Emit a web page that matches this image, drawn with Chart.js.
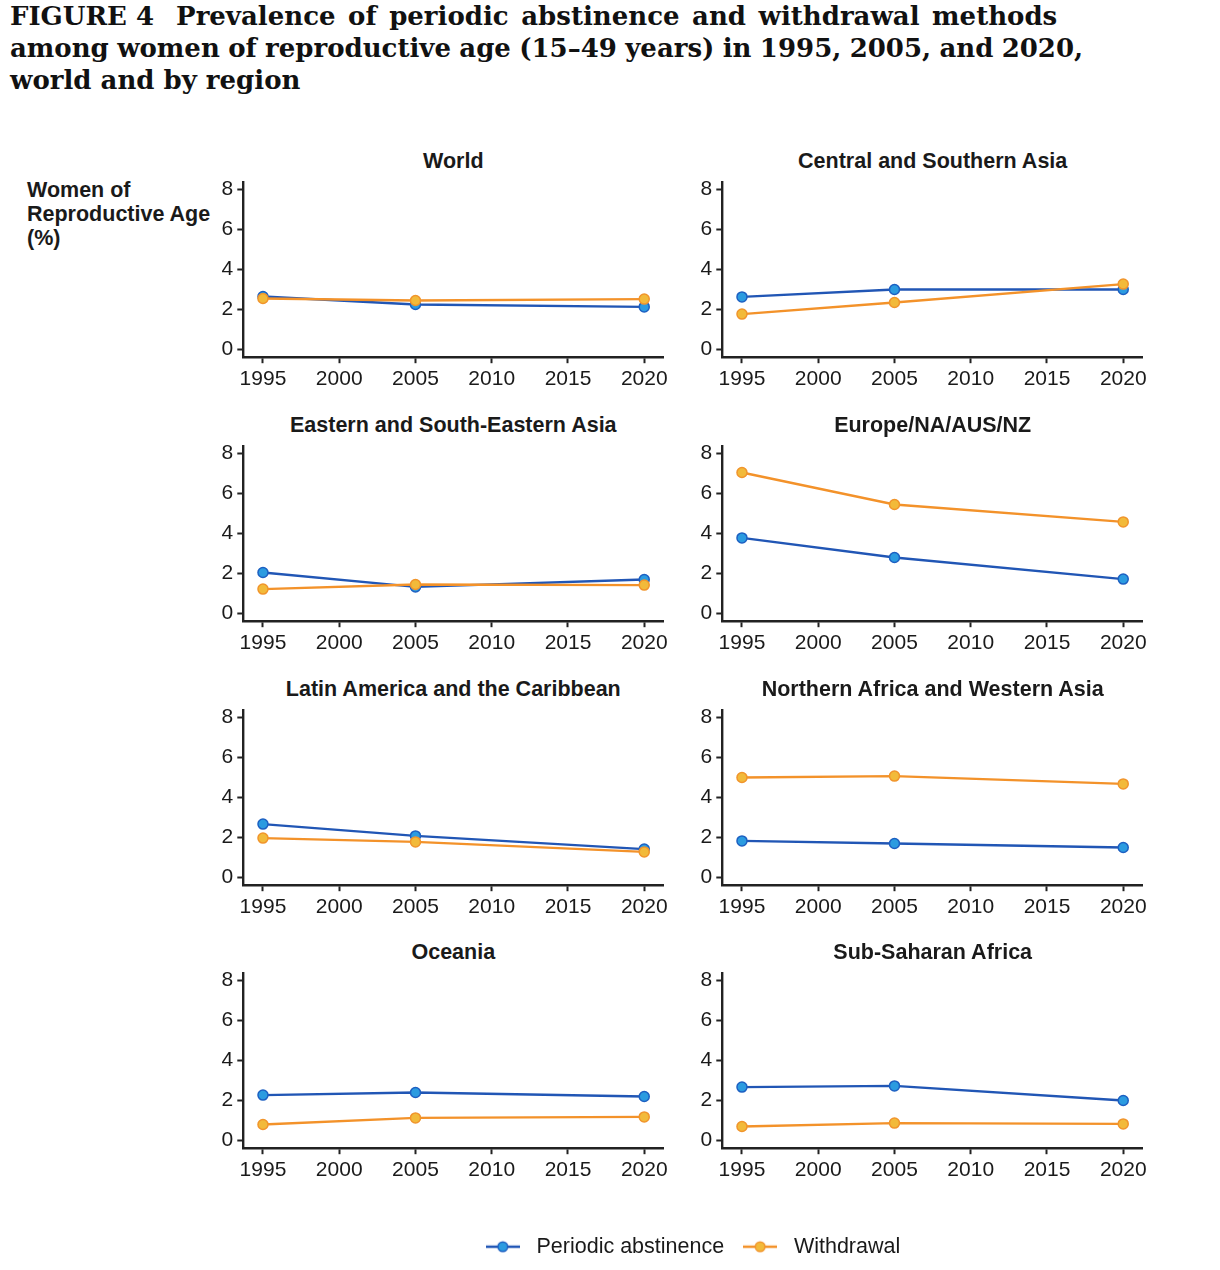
<!DOCTYPE html>
<html><head><meta charset="utf-8">
<script src="https://cdn.jsdelivr.net/npm/chart.js@4/dist/chart.umd.min.js"></script>
<style>
html,body{margin:0;padding:0;background:#fff;}
body{width:1220px;height:1270px;position:relative;overflow:hidden;}
#title{position:absolute;left:10px;top:0px;font-family:"DejaVu Serif",serif;font-weight:bold;font-size:26px;line-height:32px;color:#111;white-space:nowrap;}
#title .l1{word-spacing:3.5px;}
#title .l2{word-spacing:-0.7px;}
#title .fig{margin-right:22px;word-spacing:0;}
.ptitle{position:absolute;width:480px;text-align:center;font-family:"Liberation Sans",Arial,sans-serif;font-weight:bold;font-size:21.5px;line-height:26px;color:#1a1a1a;white-space:nowrap;}
#ylab{position:absolute;left:27px;top:178px;font-family:"Liberation Sans",Arial,sans-serif;font-weight:bold;font-size:21.5px;line-height:24px;color:#1a1a1a;}
.pc{position:absolute;}
</style>
</head><body>
<div id="title"><span class="l1"><span class="fig">FIGURE 4</span>Prevalence of periodic abstinence and withdrawal methods</span><br><span class="l2">among women of reproductive age (15–49 years) in 1995, 2005, and 2020,</span><br>world and by region</div>
<div id="ylab">Women of<br>Reproductive Age<br>(%)</div>
<script>
// ---- data ----
const years = [1995, 2005, 2020];
const xTicks = [1995, 2000, 2005, 2010, 2015, 2020];
const yTicks = [0, 2, 4, 6, 8];
const seriesNames = ["Periodic abstinence", "Withdrawal"];
const regions = ["World", "Central and Southern Asia", "Eastern and South-Eastern Asia", "Europe/NA/AUS/NZ",
                 "Latin America and the Caribbean", "Northern Africa and Western Asia", "Oceania", "Sub-Saharan Africa"];

const worldPeriodic = [2.65, 2.25, 2.13];
const worldWithdrawal = [2.55, 2.45, 2.52];
const centralSouthAsiaPeriodic = [2.63, 3.0, 3.0];
const centralSouthAsiaWithdrawal = [1.77, 2.35, 3.27];
const eastSEAsiaPeriodic = [2.05, 1.33, 1.7];
const eastSEAsiaWithdrawal = [1.22, 1.45, 1.42];
const europePeriodic = [3.78, 2.8, 1.72];
const europeWithdrawal = [7.05, 5.45, 4.58];
const latinAmericaPeriodic = [2.67, 2.08, 1.42];
const latinAmericaWithdrawal = [1.97, 1.78, 1.28];
const nAfricaWAsiaPeriodic = [1.83, 1.7, 1.5];
const nAfricaWAsiaWithdrawal = [5.0, 5.07, 4.68];
const oceaniaPeriodic = [2.27, 2.4, 2.2];
const oceaniaWithdrawal = [0.8, 1.13, 1.18];
const subSaharanPeriodic = [2.67, 2.73, 2.0];
const subSaharanWithdrawal = [0.7, 0.87, 0.83];

const periodicByRegion = [worldPeriodic, centralSouthAsiaPeriodic, eastSEAsiaPeriodic, europePeriodic,
                          latinAmericaPeriodic, nAfricaWAsiaPeriodic, oceaniaPeriodic, subSaharanPeriodic];
const withdrawalByRegion = [worldWithdrawal, centralSouthAsiaWithdrawal, eastSEAsiaWithdrawal, europeWithdrawal,
                            latinAmericaWithdrawal, nAfricaWAsiaWithdrawal, oceaniaWithdrawal, subSaharanWithdrawal];

// ---- styles ----
const blueLine = "#2156b5", blueFill = "#2b9be0", blueBorder = "#1d60c2";
const orangeLine = "#f3922a", orangeFill = "#f2ba3a", orangeBorder = "#f1952c";
const axisColor = "#222";
const textColor = "#1a1a1a";
const sans = '"Liberation Sans", Arial, sans-serif';

const colLeft = [200, 679.4];
const rowTop0 = 150, rowStep = 263.8;
const canvasW = 480, canvasH = 250;
const padTop = 31.8, areaH = 175.4, yAxisW = 43.3, padRight = 16.7;

Chart.defaults.animation = false;

regions.forEach((name, i) => {
  const col = i % 2, row = Math.floor(i / 2);
  const left = colLeft[col], top = rowTop0 + row * rowStep;

  const t = document.createElement('div');
  t.className = 'ptitle';
  t.textContent = name;
  const cx = left + yAxisW + (canvasW - yAxisW - padRight) / 2;
  t.style.left = (cx - 240) + 'px';
  t.style.top = (top - 2) + 'px';
  document.body.appendChild(t);

  const wrap = document.createElement('div');
  wrap.className = 'pc';
  wrap.style.left = left + 'px';
  wrap.style.top = top + 'px';
  wrap.style.width = canvasW + 'px';
  wrap.style.height = canvasH + 'px';
  const cv = document.createElement('canvas');
  wrap.appendChild(cv);
  document.body.appendChild(wrap);

  const mk = arr => years.map((y, k) => ({x: y, y: arr[k]}));
  new Chart(cv, {
    type: 'line',
    data: {
      datasets: [
        {label: seriesNames[0], data: mk(periodicByRegion[i]), borderColor: blueLine, borderWidth: 2.3,
         pointBackgroundColor: blueFill, pointBorderColor: blueBorder, pointBorderWidth: 1.5, pointRadius: 5,
         tension: 0, order: 1},
        {label: seriesNames[1], data: mk(withdrawalByRegion[i]), borderColor: orangeLine, borderWidth: 2.3,
         pointBackgroundColor: orangeFill, pointBorderColor: orangeBorder, pointBorderWidth: 1.5, pointRadius: 5,
         tension: 0, order: 0}
      ]
    },
    options: {
      responsive: true, maintainAspectRatio: false,
      layout: {padding: {top: padTop, right: padRight, left: 0, bottom: 0}, autoPadding: false},
      plugins: {legend: {display: false}, tooltip: {enabled: false}},
      scales: {
        x: {
          type: 'linear', min: 1993.71, max: 2021.25,
          afterBuildTicks: s => { s.ticks = xTicks.map(v => ({value: v})); },
          afterFit: s => { s.height = canvasH - padTop - areaH; },
          ticks: {callback: v => String(v), color: textColor, font: {family: sans, size: 21}, padding: 3, maxRotation: 0, autoSkip: false},
          grid: {display: true, drawOnChartArea: false, drawTicks: true, tickLength: 6, tickWidth: 2, tickColor: axisColor},
          border: {display: true, color: axisColor, width: 2.4}
        },
        y: {
          min: -0.385, max: 8.385,
          afterBuildTicks: s => { s.ticks = yTicks.map(v => ({value: v})); },
          afterFit: s => { s.width = yAxisW; },
          ticks: {callback: v => String(v), color: textColor, font: {family: sans, size: 21}, padding: 4},
          grid: {display: true, drawOnChartArea: false, drawTicks: true, tickLength: 6, tickWidth: 2, tickColor: axisColor},
          border: {display: true, color: axisColor, width: 2.4}
        }
      }
    }
  });
});

// ---- legend ----
function markerCanvas(line, fill, border) {
  const c = document.createElement('canvas');
  c.width = 34; c.height = 14;
  const g = c.getContext('2d');
  g.strokeStyle = line; g.lineWidth = 2.3;
  g.beginPath(); g.moveTo(0, 7); g.lineTo(34, 7); g.stroke();
  g.beginPath(); g.arc(17, 7, 4.8, 0, Math.PI * 2);
  g.fillStyle = fill; g.fill();
  g.strokeStyle = border; g.lineWidth = 1.5; g.stroke();
  return c;
}
const markers = [markerCanvas(blueLine, blueFill, blueBorder), markerCanvas(orangeLine, orangeFill, orangeBorder)];

const lw = document.createElement('div');
lw.className = 'pc';
lw.style.left = '390px'; lw.style.top = '1223px';
lw.style.width = '600px'; lw.style.height = '120px';
const lc = document.createElement('canvas');
lw.appendChild(lc);
document.body.appendChild(lw);
new Chart(lc, {
  type: 'line',
  data: {datasets: [
    {label: seriesNames[0], data: [], borderColor: blueLine},
    {label: seriesNames[1], data: [], borderColor: orangeLine}
  ]},
  options: {
    responsive: true, maintainAspectRatio: false,
    layout: {padding: 0},
    scales: {x: {display: false}, y: {display: false}},
    plugins: {
      tooltip: {enabled: false},
      legend: {
        display: true, position: 'top', align: 'center',
        labels: {
          usePointStyle: true, pointStyleWidth: 46, padding: 13,
          color: textColor, font: {family: sans, size: 21.5},
          generateLabels: chart => chart.data.datasets.map((ds, k) => ({
            text: ds.label, pointStyle: markers[k], fillStyle: ds.borderColor, strokeStyle: ds.borderColor,
            lineWidth: 0, hidden: false, datasetIndex: k, fontColor: textColor
          }))
        }
      }
    }
  }
});
</script>
</body></html>
